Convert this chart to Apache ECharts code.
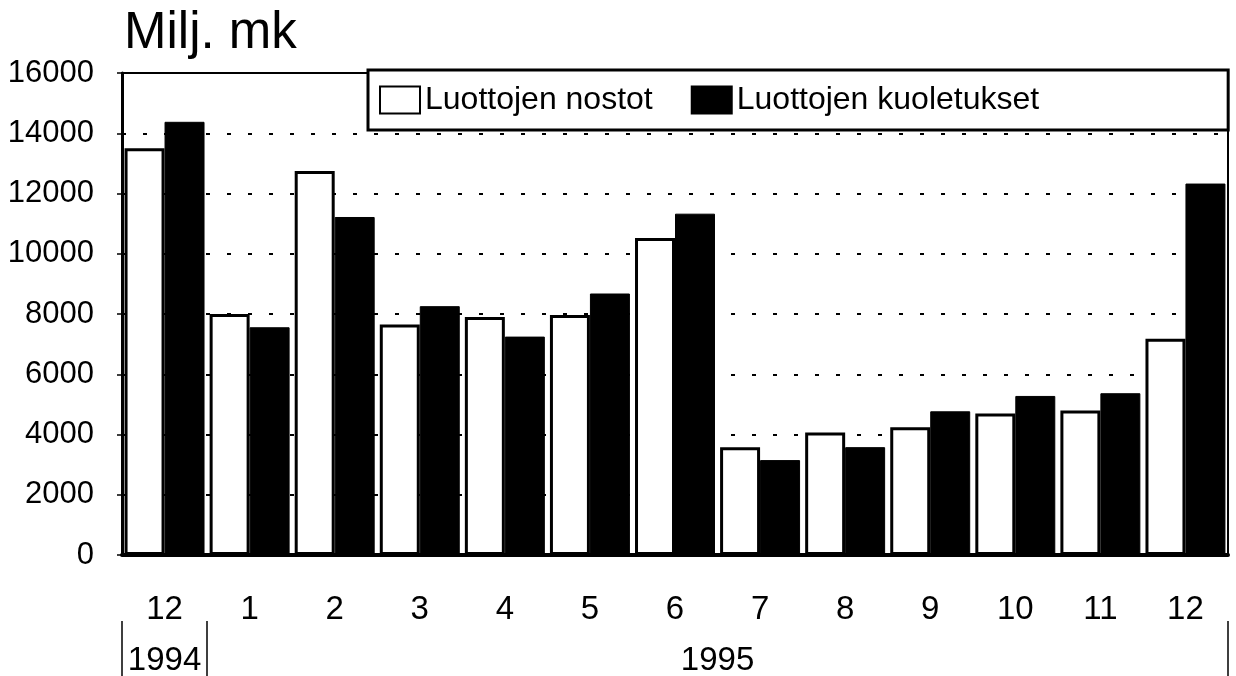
<!DOCTYPE html>
<html>
<head>
<meta charset="utf-8">
<script src="https://cdn.jsdelivr.net/npm/echarts@6/dist/echarts.min.js"></script>
<style>
  html, body { margin: 0; padding: 0; background: #fff; }
  #chart { width: 1236px; height: 676px; }
</style>
</head>
<body>
<div id="chart"></div>
<script>
// kuukaudet: 12/1994 ja 1-12/1995
const months = ['12', '1', '2', '3', '4', '5', '6', '7', '8', '9', '10', '11', '12'];
const nostot = [13500, 8000, 12750, 7650, 7900, 7970, 10520, 3580, 4070, 4240, 4700, 4800, 7180];
const kuoletukset = [14380, 7560, 11220, 8260, 7250, 8680, 11330, 3150, 3580, 4770, 5280, 5370, 12330];
const yTicks = [0, 16000, 2000];           // min, max, interval
const yearLabels = { 0.5: '1994', 7: '1995' };  // keskikohdat kuukausiasteikolla
const yearSeparators = [0, 1, 13];

const FONT = '"Liberation Sans", Arial, sans-serif';
const chart = echarts.init(document.getElementById('chart'));

chart.setOption({
  animation: false,
  backgroundColor: '#fff',
  title: {
    text: 'Milj. mk', left: 119, top: 3,
    textStyle: { fontFamily: FONT, fontSize: 51, fontWeight: 'normal', color: '#000' },
  },
  legend: {
    left: 368, top: 70,
    padding: [14, 189, 14, 11],
    backgroundColor: '#fff',
    borderColor: '#000', borderWidth: 3,
    itemWidth: 40, itemHeight: 27, itemGap: 38,
    icon: 'rect',
    textStyle: { fontFamily: FONT, fontSize: 32, color: '#000' },
    data: ['Luottojen nostot', 'Luottojen kuoletukset'],
  },
  grid: {
    left: 122, right: 8, top: 73, bottom: 121,
    outerBoundsMode: 'none',
    show: true, borderColor: '#000', borderWidth: 2,
  },
  xAxis: [
    {
      type: 'category', data: months, position: 'bottom',
      axisLine: { lineStyle: { color: '#000', width: 4 } },
      axisTick: { alignWithLabel: true, length: 15, lineStyle: { color: '#000', width: 1.5 } },
      axisLabel: { margin: 38, fontFamily: FONT, fontSize: 33, color: '#000' },
    },
    {
      // vuosirivi
      type: 'value', min: 0, max: 13, position: 'bottom', offset: 66,
      axisLine: { show: false },
      splitLine: { show: false },
      axisTick: { show: true, customValues: yearSeparators, length: 60, lineStyle: { color: '#000', width: 1.5 } },
      axisLabel: {
        customValues: [0.5, 7], margin: 23,
        fontFamily: FONT, fontSize: 33, color: '#000',
        formatter: (v) => yearLabels[v] || '',
      },
    },
  ],
  yAxis: {
    type: 'value', min: yTicks[0], max: yTicks[1], interval: yTicks[2],
    axisLine: { show: true, lineStyle: { color: '#000', width: 3 } },
    axisTick: { show: true, length: 5, lineStyle: { color: '#000', width: 1.5 } },
    axisLabel: {
      margin: 28, padding: [8, 0, 0, 0],
      fontFamily: FONT, fontSize: 31, color: '#000',
      formatter: (v) => String(v),
    },
    splitLine: { lineStyle: { color: '#000', width: 2, type: [4, 17] } },
  },
  series: [
    {
      name: 'Luottojen nostot', type: 'bar', data: nostot,
      barGap: '0%', barCategoryGap: '6%',
      itemStyle: { color: '#fff', borderColor: '#000', borderWidth: 3 },
    },
    {
      name: 'Luottojen kuoletukset', type: 'bar', data: kuoletukset,
      barGap: '0%', barCategoryGap: '6%',
      itemStyle: { color: '#000', borderColor: '#000', borderWidth: 1 },
    },
  ],
});
</script>
</body>
</html>
